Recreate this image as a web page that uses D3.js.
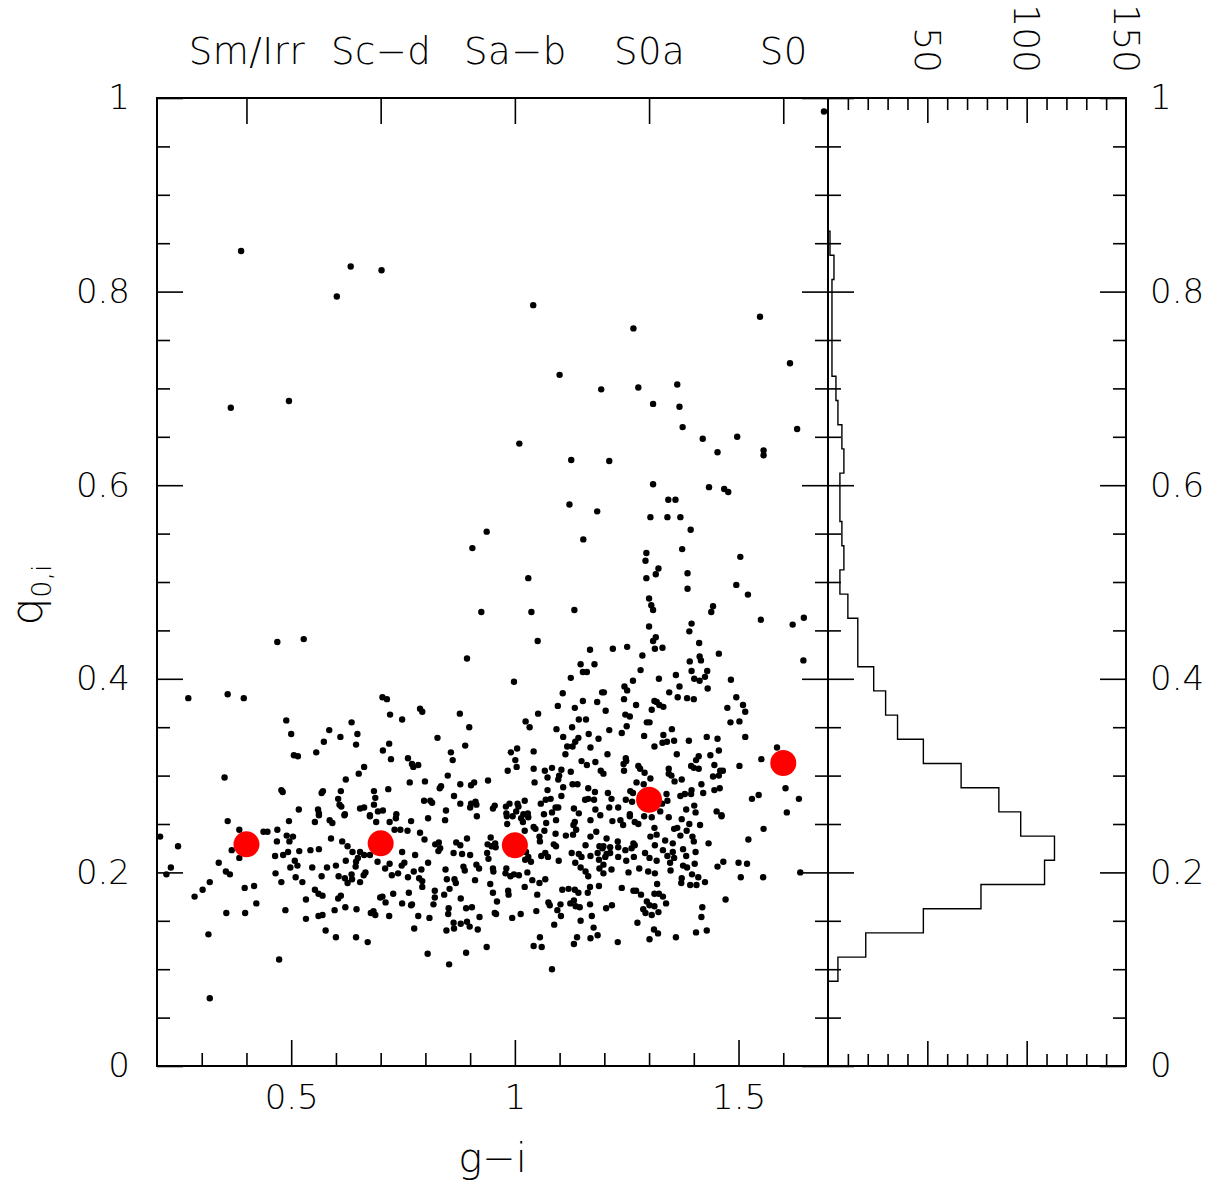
<!DOCTYPE html>
<html>
<head>
<meta charset="utf-8">
<script src="https://cdn.jsdelivr.net/npm/d3@7"></script>
<style>
  html, body { margin: 0; padding: 0; background: #fff; }
  svg text { font-family: "DejaVu Sans", sans-serif; font-weight: 200; fill: #000; }
</style>
</head>
<body>
<svg id="chart" width="1212" height="1192"></svg>
<script>
// Morphological type bins: median colour and median q0,i per type
const typeLabels = ["Sm/Irr", "Sc\u2212d", "Sa\u2212b", "S0a", "S0"];
const typeGI = [0.4, 0.7, 1.0, 1.3, 1.6];
const typeQ = [0.229, 0.230, 0.228, 0.275, 0.313];

// Individual galaxies: [g-i, q0,i]
const galaxies = [
[0.469,0.438],[0.528,0.441],[0.270,0.380],[0.358,0.384],[0.394,0.380],[0.489,0.357],[0.500,0.343],[0.585,0.347],[0.635,0.355],[0.610,0.340],[0.648,0.343],[0.573,0.335],[0.645,0.332],[0.506,0.321],[0.515,0.320],[0.556,0.324],[0.663,0.309],[0.651,0.302],[0.351,0.298],[0.622,0.296],[0.478,0.285],[0.481,0.283],[0.568,0.282],[0.571,0.284],[0.611,0.284],[0.605,0.276],[0.685,0.284],[0.688,0.277],[0.608,0.270],[0.612,0.268],[0.685,0.270],[0.517,0.265],[0.560,0.265],[0.562,0.261],[0.620,0.260],[0.654,0.266],[0.663,0.267],[0.676,0.259],[0.694,0.263],
[1.051,0.439],[1.168,0.430],[0.893,0.421],[1.147,0.415],[1.178,0.415],[1.152,0.407],[1.161,0.407],[1.125,0.401],[0.998,0.397],[1.107,0.385],[1.195,0.386],[0.704,0.381],[0.714,0.379],[1.152,0.377],[1.184,0.376],[1.096,0.372],[1.134,0.370],[0.788,0.369],[0.793,0.366],[0.877,0.364],[1.052,0.364],[0.721,0.363],[0.748,0.358],[1.143,0.358],[1.159,0.358],[1.024,0.356],[0.898,0.350],[1.033,0.350],[1.093,0.348],[1.128,0.350],[1.165,0.343],[0.827,0.339],[1.108,0.340],[1.142,0.339],[1.187,0.338],[1.135,0.335],[0.719,0.333],[0.889,0.331],[1.117,0.330],[1.129,0.330],[1.169,0.329],[1.005,0.328],[0.705,0.326],[0.857,0.324],[0.991,0.324],[1.042,0.325],[1.113,0.322],[0.723,0.317],[0.861,0.316],[0.761,0.318],[0.770,0.312],[0.784,0.311],[0.773,0.309],[1.001,0.316],[1.004,0.309],[1.149,0.315],[1.161,0.311],[1.180,0.314],[0.984,0.305],[1.042,0.307],[1.067,0.305],[1.083,0.308],[1.104,0.306],[1.125,0.304],[1.192,0.305],[0.850,0.300],[1.099,0.300],[1.073,0.298],[1.097,0.296],[0.765,0.293],[0.799,0.294],[0.878,0.291],[0.902,0.290],[0.909,0.293],[0.940,0.295],[1.044,0.293],[1.108,0.288],[1.129,0.291],[1.140,0.291],[1.164,0.287],[0.832,0.287],[0.835,0.289],[0.717,0.286],[1.073,0.285],[1.179,0.283],[0.864,0.279],[0.797,0.274],[0.811,0.274],[0.815,0.272],[0.878,0.271],[0.902,0.271],[0.912,0.273],[0.900,0.267],[0.914,0.270],[1.069,0.275],[1.080,0.276],[1.104,0.279],[1.157,0.275],[1.164,0.276],[1.058,0.271],[1.022,0.274],[0.955,0.269],[0.951,0.266],[0.980,0.268],[0.988,0.271],[1.006,0.271],[1.008,0.268],[1.091,0.267],[1.097,0.267],[1.132,0.266],[1.177,0.275],[1.180,0.265],[0.705,0.264],[0.846,0.264],[0.735,0.260],[0.981,0.261],[1.003,0.263],[1.029,0.261],[1.065,0.260],[1.083,0.262],[1.143,0.261],[1.019,0.260],[1.191,0.259],
[1.300,0.454],[1.395,0.457],[1.621,0.456],[1.390,0.449],[1.315,0.443],[1.309,0.439],[1.219,0.431],[1.251,0.433],[1.313,0.431],[1.330,0.432],[1.412,0.437],[1.285,0.424],[1.456,0.426],[1.413,0.423],[1.416,0.419],[1.645,0.419],[1.391,0.418],[1.281,0.409],[1.395,0.408],[1.430,0.408],[1.360,0.404],[1.425,0.402],[1.322,0.400],[1.401,0.400],[1.413,0.398],[1.483,0.399],[1.264,0.398],[1.245,0.392],[1.368,0.392],[1.431,0.390],[1.251,0.388],[1.345,0.386],[1.199,0.386],[1.364,0.381],[1.385,0.380],[1.400,0.379],[1.495,0.381],[1.244,0.379],[1.312,0.377],[1.317,0.376],[1.271,0.373],[1.323,0.373],[1.332,0.371],[1.306,0.368],[1.510,0.373],[1.475,0.370],[1.515,0.366],[1.203,0.367],[1.247,0.363],[1.257,0.361],[1.295,0.355],[1.301,0.355],[1.482,0.355],[1.502,0.356],[1.250,0.351],[1.211,0.347],[1.239,0.344],[1.351,0.348],[1.289,0.341],[1.332,0.342],[1.429,0.340],[1.453,0.338],[1.515,0.340],[1.330,0.334],[1.340,0.335],[1.356,0.336],[1.389,0.336],[1.312,0.330],[1.586,0.329],[1.456,0.326],[1.207,0.322],[1.362,0.322],[1.437,0.321],[1.551,0.317],[1.248,0.318],[1.411,0.320],[1.249,0.315],[1.405,0.316],[1.243,0.312],[1.276,0.310],[1.280,0.307],[1.394,0.310],[1.400,0.308],[1.411,0.307],[1.446,0.311],[1.502,0.310],[1.244,0.305],[1.290,0.303],[1.344,0.307],[1.344,0.302],[1.350,0.300],[1.459,0.305],[1.465,0.305],[1.456,0.300],[1.443,0.299],[1.198,0.302],[1.303,0.297],[1.373,0.296],[1.357,0.294],[1.272,0.293],[1.417,0.291],[1.288,0.291],[1.458,0.287],[1.446,0.285],[1.605,0.287],[1.208,0.282],[1.258,0.284],[1.264,0.282],[1.339,0.281],[1.370,0.279],[1.380,0.281],[1.395,0.285],[1.394,0.281],[1.421,0.282],[1.545,0.280],[1.530,0.276],[1.635,0.276],[1.216,0.276],[1.248,0.275],[1.262,0.273],[1.341,0.274],[1.329,0.271],[1.211,0.267],[1.231,0.267],[1.401,0.269],[1.383,0.265],[1.404,0.262],[1.451,0.263],[1.608,0.262],[1.257,0.260],[1.325,0.263],[1.462,0.259],
[0.358,0.253],[0.384,0.244],[0.207,0.237],[0.247,0.227],[0.367,0.223],[0.384,0.215],[0.231,0.205],[0.221,0.198],[0.338,0.210],[0.354,0.201],[0.363,0.198],[0.318,0.190],[0.302,0.182],[0.284,0.175],[0.396,0.184],[0.417,0.186],[0.422,0.168],[0.355,0.158],[0.397,0.158],[0.315,0.136],[0.473,0.110],[0.318,0.070],[0.438,0.242],[0.447,0.242],[0.469,0.244],[0.495,0.253],[0.553,0.252],[0.562,0.259],[0.586,0.254],[0.592,0.251],[0.619,0.259],[0.676,0.258],[0.690,0.252],[0.490,0.238],[0.504,0.237],[0.496,0.232],[0.468,0.232],[0.589,0.235],[0.614,0.232],[0.626,0.227],[0.543,0.223],[0.562,0.224],[0.518,0.222],[0.493,0.221],[0.482,0.218],[0.464,0.217],[0.508,0.212],[0.514,0.207],[0.498,0.205],[0.547,0.205],[0.580,0.205],[0.600,0.207],[0.622,0.212],[0.637,0.221],[0.654,0.221],[0.663,0.218],[0.649,0.215],[0.645,0.211],[0.644,0.206],[0.676,0.218],[0.693,0.211],[0.465,0.199],[0.478,0.190],[0.510,0.195],[0.525,0.190],[0.568,0.196],[0.606,0.196],[0.620,0.194],[0.635,0.198],[0.636,0.193],[0.626,0.189],[0.654,0.190],[0.662,0.197],[0.666,0.200],[0.553,0.182],[0.561,0.178],[0.570,0.176],[0.533,0.172],[0.605,0.173],[0.611,0.176],[0.699,0.174],[0.621,0.164],[0.646,0.162],[0.597,0.161],[0.487,0.161],[0.561,0.155],[0.570,0.156],[0.533,0.152],[0.678,0.158],[0.688,0.156],[0.684,0.160],[0.577,0.140],[0.600,0.133],[0.645,0.133],[0.671,0.128],
[0.720,0.252],[0.734,0.256],[0.768,0.253],[0.806,0.256],[0.844,0.254],[0.915,0.258],[0.731,0.244],[0.744,0.244],[0.760,0.243],[0.788,0.241],[0.798,0.234],[0.822,0.229],[0.830,0.231],[0.833,0.225],[0.829,0.222],[0.893,0.235],[0.869,0.231],[0.878,0.228],[0.863,0.220],[0.882,0.219],[0.900,0.218],[0.748,0.221],[0.777,0.218],[0.720,0.209],[0.753,0.210],[0.747,0.207],[0.806,0.210],[0.710,0.204],[0.739,0.199],[0.725,0.197],[0.774,0.201],[0.791,0.203],[0.761,0.195],[0.786,0.194],[0.793,0.191],[0.793,0.185],[0.845,0.203],[0.885,0.206],[0.888,0.202],[0.914,0.208],[0.920,0.204],[0.848,0.193],[0.865,0.193],[0.868,0.189],[0.911,0.192],[0.854,0.183],[0.842,0.177],[0.821,0.181],[0.821,0.174],[0.818,0.167],[0.763,0.179],[0.728,0.178],[0.704,0.175],[0.711,0.169],[0.748,0.168],[0.768,0.166],[0.770,0.167],[0.719,0.155],[0.784,0.155],[0.809,0.153],[0.775,0.142],[0.879,0.173],[0.852,0.163],[0.851,0.157],[0.891,0.163],[0.904,0.164],[0.921,0.154],[0.863,0.148],[0.864,0.142],[0.879,0.147],[0.893,0.149],[0.899,0.144],[0.847,0.140],[0.917,0.141],[0.805,0.116],[0.853,0.105],[0.891,0.117],[0.937,0.123],[0.946,0.236],[0.939,0.229],[0.948,0.227],[0.957,0.226],[0.956,0.230],[0.938,0.220],[0.941,0.214],[0.951,0.204],[0.952,0.201],[0.979,0.199],[0.981,0.204],[0.990,0.196],[0.998,0.198],[1.009,0.197],[0.945,0.188],[0.951,0.179],[0.985,0.181],[0.986,0.177],[0.960,0.170],[0.955,0.158],[0.958,0.157],[0.994,0.153],[1.013,0.157],[0.982,0.258],[0.995,0.258],[1.014,0.256],[1.018,0.252],[1.030,0.257],[0.983,0.250],[1.042,0.247],[1.046,0.245],[1.022,0.243],[1.070,0.251],[1.066,0.243],[1.092,0.254],[1.091,0.240],[1.055,0.237],[1.056,0.232],[1.087,0.229],[1.092,0.227],[1.114,0.238],[1.130,0.239],[1.137,0.244],[1.134,0.252],[1.131,0.249],[1.169,0.254],[1.182,0.242],[1.169,0.237],[1.158,0.228],[1.189,0.227],[1.025,0.221],[1.030,0.216],[1.023,0.213],[1.036,0.211],[1.059,0.217],[1.068,0.220],[1.074,0.216],[1.098,0.212],[1.127,0.220],[1.143,0.219],[1.149,0.216],[1.135,0.210],[1.169,0.217],[1.185,0.220],[1.188,0.213],[1.196,0.225],[1.028,0.200],[1.039,0.192],[1.055,0.189],[1.068,0.193],[1.022,0.185],[1.050,0.177],[1.147,0.205],[1.158,0.201],[1.164,0.196],[1.189,0.204],[1.106,0.182],[1.120,0.183],[1.134,0.182],[1.142,0.179],[1.168,0.185],[1.163,0.179],[1.188,0.186],[1.075,0.169],[1.078,0.166],[1.102,0.167],[1.095,0.161],[1.124,0.168],[1.132,0.171],[1.136,0.165],[1.145,0.164],[1.168,0.167],[1.048,0.160],[1.103,0.155],[1.147,0.150],[1.172,0.155],[1.088,0.146],[1.176,0.143],[1.185,0.135],[1.169,0.132],[1.139,0.133],[1.132,0.126],[1.056,0.133],[1.042,0.124],[1.060,0.123],[1.083,0.100],
[1.218,0.253],[1.236,0.254],[1.242,0.249],[1.257,0.258],[1.268,0.252],[1.276,0.250],[1.289,0.258],[1.306,0.257],[1.344,0.257],[1.373,0.255],[1.390,0.250],[1.414,0.249],[1.462,0.258],[1.556,0.245],[1.522,0.234],[1.312,0.246],[1.303,0.237],[1.317,0.239],[1.356,0.245],[1.363,0.246],[1.384,0.243],[1.370,0.238],[1.397,0.237],[1.400,0.232],[1.205,0.235],[1.230,0.232],[1.198,0.227],[1.213,0.226],[1.231,0.226],[1.247,0.223],[1.261,0.225],[1.265,0.230],[1.268,0.228],[1.213,0.220],[1.202,0.216],[1.205,0.219],[1.231,0.216],[1.249,0.212],[1.266,0.216],[1.198,0.208],[1.216,0.203],[1.198,0.199],[1.254,0.200],[1.278,0.204],[1.291,0.220],[1.301,0.215],[1.313,0.228],[1.336,0.233],[1.353,0.230],[1.331,0.223],[1.353,0.221],[1.341,0.217],[1.356,0.215],[1.347,0.210],[1.317,0.212],[1.376,0.224],[1.404,0.221],[1.383,0.217],[1.433,0.230],[1.376,0.207],[1.385,0.205],[1.402,0.209],[1.298,0.201],[1.313,0.199],[1.348,0.202],[1.396,0.198],[1.373,0.194],[1.372,0.189],[1.392,0.187],[1.406,0.187],[1.410,0.195],[1.425,0.190],[1.453,0.206],[1.466,0.211],[1.500,0.210],[1.519,0.209],[1.505,0.195],[1.555,0.195],[1.638,0.200],[1.471,0.172],[1.318,0.188],[1.239,0.184],[1.265,0.181],[1.271,0.181],[1.282,0.177],[1.312,0.178],[1.322,0.178],[1.331,0.175],[1.338,0.168],[1.295,0.170],[1.301,0.166],[1.312,0.165],[1.287,0.162],[1.292,0.158],[1.306,0.156],[1.321,0.159],[1.204,0.163],[1.217,0.166],[1.274,0.148],[1.419,0.164],[1.417,0.154],[1.311,0.141],[1.320,0.137],[1.301,0.131],[1.360,0.133],[1.405,0.138],[1.429,0.140],[1.230,0.128],
[1.691,0.986],[0.388,0.842],[0.633,0.826],[0.702,0.822],[0.602,0.795],[1.041,0.786],[1.265,0.762],[1.548,0.774],[1.615,0.726],[0.365,0.680],[0.495,0.687],[1.100,0.714],[1.193,0.699],[1.276,0.701],[1.363,0.704],[1.309,0.684],[1.368,0.681],[1.631,0.658],[1.010,0.643],[1.375,0.660],[1.420,0.648],[1.497,0.650],[1.453,0.634],[1.556,0.636],[1.556,0.631],[1.126,0.626],[1.211,0.625],[1.309,0.601],[1.434,0.598],[1.468,0.596],[1.477,0.593],[1.122,0.580],[1.184,0.573],[1.343,0.585],[1.359,0.585],[1.303,0.567],[1.341,0.567],[1.370,0.567],[1.393,0.554],[1.153,0.544],[0.937,0.552],[0.905,0.535],[1.374,0.534],[1.294,0.530],[1.504,0.526],[1.292,0.522],[1.321,0.514],[1.315,0.508],[1.386,0.509],[1.030,0.504],[1.294,0.504],[1.495,0.497],[1.386,0.493],[1.521,0.487],[1.300,0.483],[1.305,0.476],[1.309,0.471],[1.443,0.475],[1.439,0.469],[1.133,0.471],[0.925,0.469],[1.037,0.469],[1.646,0.463],[1.550,0.461]
];

// Histogram of q0,i: lower bin edges and counts (bin width 0.025)
const histLower = [0.0875,0.1125,0.1375,0.1625,0.1875,0.2125,0.2375,0.2625,0.2875,0.3125,0.3375,0.3625,0.3875,0.4125,0.4375,0.4625,0.4875,0.5125,0.5375,0.5625,0.5875,0.6125,0.6375,0.6625,0.6875,0.7125,0.7375,0.7625,0.7875,0.8125,0.8375];
const histCounts = [5,19,48,77,109,114,97,86,67,48,35,29,23,15,15,10,6,8,7,6,6,8,7,5,4,2,2,2,2,3,1];
const histBinWidth = 0.025;

// Axis tick values
const qMajor = [0, 0.2, 0.4, 0.6, 0.8, 1];
const qMinor = [0.05,0.1,0.15,0.25,0.3,0.35,0.45,0.5,0.55,0.65,0.7,0.75,0.85,0.9,0.95];
const giMajor = [0.5, 1, 1.5];
const giMinor = [0.3,0.4,0.6,0.7,0.8,0.9,1.1,1.2,1.3,1.4,1.6];
const countMajor = [50, 100, 150];
const countMinor = [10,20,30,40,60,70,80,90,110,120,130,140];

const svg = d3.select("#chart");
const L = 157, R = 828, HR = 1126, T = 98, B = 1066;
const x = d3.scaleLinear().domain([0.2, 1.7]).range([L, R]);
const y = d3.scaleLinear().domain([0, 1]).range([B, T]);
const hx = d3.scaleLinear().domain([0, 150]).range([R, HR]);

const fmt = d => (d === 0 ? "0" : d === 1 ? "1" : String(d));
const FS = 34;

function styleAxis(g) {
  g.select(".domain").remove();
  g.selectAll(".tick line").attr("stroke", "#000").attr("stroke-width", 1.6);
  g.selectAll(".tick text").attr("font-size", FS).attr("font-family", "DejaVu Sans, sans-serif").attr("font-weight", 200).attr("fill", "#000");
}

// ---- main panel axes ----
svg.append("g").attr("transform", `translate(${L},0)`)
  .call(d3.axisLeft(y).tickValues(qMinor).tickSize(-13).tickFormat(""))
  .call(styleAxis);
svg.append("g").attr("transform", `translate(${L},0)`)
  .call(d3.axisLeft(y).tickValues(qMajor).tickSize(-26).tickPadding(27).tickFormat(fmt))
  .call(styleAxis);

svg.append("g").attr("transform", `translate(0,${B})`)
  .call(d3.axisBottom(x).tickValues(giMinor).tickSize(-13).tickFormat(""))
  .call(styleAxis);
svg.append("g").attr("transform", `translate(0,${B})`)
  .call(d3.axisBottom(x).tickValues(giMajor).tickSize(-26).tickPadding(19).tickFormat(fmt))
  .call(styleAxis);

// Morphological type ticks along the top
svg.append("g").attr("transform", `translate(0,${T})`)
  .call(d3.axisTop(x).tickValues(typeGI).tickSize(-26).tickPadding(34).tickFormat((d, i) => typeLabels[i]))
  .call(styleAxis)
  .call(g => g.selectAll(".tick text").attr("font-size", 37).attr("letter-spacing", 0.5));

// Shared edge x = R: ticks into the scatter panel and into the histogram panel
[[-13, qMinor], [-26, qMajor]].forEach(([s, v]) => {
  svg.append("g").attr("transform", `translate(${R},0)`)
    .call(d3.axisRight(y).tickValues(v).tickSize(s).tickFormat(""))
    .call(styleAxis);
  svg.append("g").attr("transform", `translate(${R},0)`)
    .call(d3.axisLeft(y).tickValues(v).tickSize(s).tickFormat(""))
    .call(styleAxis);
});

// ---- histogram panel axes ----
svg.append("g").attr("transform", `translate(${HR},0)`)
  .call(d3.axisRight(y).tickValues(qMinor).tickSize(-13).tickFormat(""))
  .call(styleAxis);
svg.append("g").attr("transform", `translate(${HR},0)`)
  .call(d3.axisRight(y).tickValues(qMajor).tickSize(-26).tickPadding(24).tickFormat(fmt))
  .call(styleAxis);

svg.append("g").attr("transform", `translate(0,${B})`)
  .call(d3.axisBottom(hx).tickValues(countMinor).tickSize(-12).tickFormat(""))
  .call(styleAxis);
svg.append("g").attr("transform", `translate(0,${B})`)
  .call(d3.axisBottom(hx).tickValues(countMajor.filter(d => d < 150)).tickSize(-25).tickFormat(""))
  .call(styleAxis);

svg.append("g").attr("transform", `translate(0,${T})`)
  .call(d3.axisTop(hx).tickValues(countMinor).tickSize(-12).tickFormat(""))
  .call(styleAxis);
const topCounts = svg.append("g").attr("transform", `translate(0,${T})`)
  .call(d3.axisTop(hx).tickValues(countMajor).tickSize(-25).tickFormat(d3.format("d")))
  .call(styleAxis);
topCounts.selectAll(".tick line").filter(d => d === 150).remove();
topCounts.selectAll(".tick text")
  .attr("font-size", 36)
  .attr("y", 0).attr("dy", "0.36em")
  .attr("text-anchor", "end")
  .attr("transform", "translate(0,-25) rotate(90)");

// ---- scatter points ----
svg.append("g").selectAll("circle").data(galaxies).join("circle")
  .attr("cx", d => x(d[0])).attr("cy", d => y(d[1]))
  .attr("r", 3.2).attr("fill", "#000");

svg.append("g").selectAll("circle").data(typeGI).join("circle")
  .attr("cx", d => x(d)).attr("cy", (d, i) => y(typeQ[i]))
  .attr("r", 13).attr("fill", "#ff0000");

// ---- histogram step outline ----
const stepPts = [[0, 0], [0, histLower[0]]];
histCounts.forEach((c, i) => {
  stepPts.push([c, histLower[i]]);
  stepPts.push([c, histLower[i] + histBinWidth]);
});
stepPts.push([0, histLower[histLower.length - 1] + histBinWidth], [0, 1]);
svg.append("path")
  .attr("d", d3.line().x(d => hx(d[0])).y(d => y(d[1]))(stepPts))
  .attr("fill", "none").attr("stroke", "#000").attr("stroke-width", 1.4);

// ---- frames ----
svg.append("rect").attr("x", L).attr("y", T).attr("width", R - L).attr("height", B - T)
  .attr("fill", "none").attr("stroke", "#000").attr("stroke-width", 2);
svg.append("rect").attr("x", R).attr("y", T).attr("width", HR - R).attr("height", B - T)
  .attr("fill", "none").attr("stroke", "#000").attr("stroke-width", 2);

// ---- axis titles ----
svg.append("text").attr("x", (L + R) / 2).attr("y", 1172)
  .attr("text-anchor", "middle").attr("font-size", 40).text("g\u2212i");

const yt = svg.append("text")
  .attr("transform", `translate(42,595) rotate(-90)`)
  .attr("text-anchor", "middle").attr("font-size", 44);
yt.append("tspan").text("q");
yt.append("tspan").attr("font-size", 27).attr("dy", 9).text("0,i");
</script>
</body>
</html>
